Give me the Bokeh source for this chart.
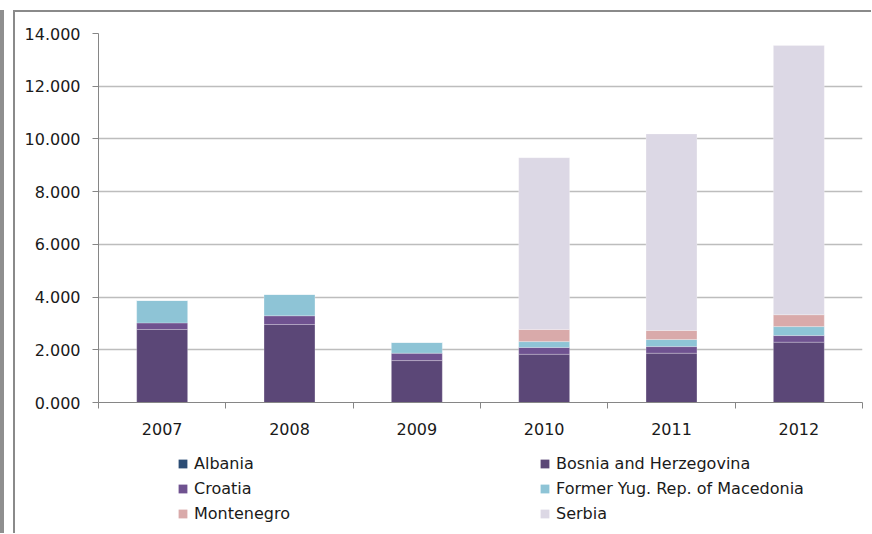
from bokeh.plotting import figure
from bokeh.layouts import column
from bokeh.models import (Range1d, FixedTicker, NumeralTickFormatter, Legend, LegendItem)
from bokeh.embed import file_html
from bokeh.resources import INLINE

# ---- data ----
years = ["2007", "2008", "2009", "2010", "2011", "2012"]
albania = [0.0, 0.0, 0.0, 0.0, 0.0, 0.0]
bosnia = [2.77, 2.96, 1.59, 1.83, 1.87, 2.29]
croatia = [0.25, 0.33, 0.28, 0.26, 0.25, 0.25]
macedonia = [0.85, 0.81, 0.41, 0.22, 0.27, 0.34]
montenegro = [0.0, 0.0, 0.0, 0.46, 0.34, 0.45]
serbia = [0.0, 0.0, 0.0, 6.52, 7.46, 10.21]
series_names = ["Albania", "Bosnia and Herzegovina", "Croatia",
                "Former Yug. Rep. of Macedonia", "Montenegro", "Serbia"]
series_values = [albania, bosnia, croatia, macedonia, montenegro, serbia]
colors = ["#2C4D75", "#5B4777", "#6F5290", "#8EC4D6", "#D9AAAA", "#DCD8E5"]
y_ticks = [0, 2, 4, 6, 8, 10, 12, 14]

FONT = "DejaVu Sans"
FSIZE = "16px"
W = 856

x_pos = [i + 0.5 for i in range(len(years))]
data = {"x": x_pos}
keys = []
for i, vals in enumerate(series_values):
    k = "s%d" % i
    keys.append(k)
    data[k] = vals

# ---------------- main chart ----------------
p = figure(width=W, height=435, output_backend="svg", toolbar_location=None,
           x_range=Range1d(0, len(years)), y_range=Range1d(0, 14),
           min_border_left=83, min_border_right=9, min_border_top=21,
           min_border_bottom=45)
p.outline_line_color = None
p.background_fill_color = "white"
p.border_fill_color = "white"

renderers = p.vbar_stack(keys, x="x", width=0.4, source=data,
                         color=colors, line_color="white", line_alpha=0.3,
                         line_width=0.8)
renderers[0].glyph.line_alpha = 0

xa = p.xaxis[0]
xa.ticker = FixedTicker(ticks=x_pos, minor_ticks=list(range(len(years) + 1)))
xa.major_label_overrides = {x_pos[i]: years[i] for i in range(len(years))}
xa.major_tick_out = 0
xa.major_tick_in = 0
xa.minor_tick_out = 6
xa.minor_tick_in = 0
xa.minor_tick_line_color = "#868686"
xa.axis_line_color = "#868686"
xa.major_label_standoff = 14
xa.major_label_text_font = FONT
xa.major_label_text_font_size = FSIZE
xa.major_label_text_color = "#1a1a1a"

ya = p.yaxis[0]
ya.ticker = FixedTicker(ticks=y_ticks)
ya.formatter = NumeralTickFormatter(format="0.000")
ya.major_tick_out = 6
ya.major_tick_in = 0
ya.minor_tick_line_color = None
ya.major_tick_line_color = "#868686"
ya.axis_line_color = "#868686"
ya.major_label_standoff = 12
ya.major_label_text_font = FONT
ya.major_label_text_font_size = FSIZE
ya.major_label_text_color = "#1a1a1a"

p.xgrid.grid_line_color = None
p.ygrid.grid_line_color = "#bdbdbd"
p.ygrid.grid_line_width = 1.5

# ---------------- legend strip ----------------
# same stacked series, hidden, so that only their legend swatches show
p2 = figure(width=W, height=86, output_backend="svg", toolbar_location=None,
            x_range=Range1d(0, len(years)), y_range=Range1d(0, 14),
            x_axis_type=None, y_axis_type=None,
            min_border_left=0, min_border_right=0, min_border_top=0,
            min_border_bottom=0)
p2.outline_line_color = None
p2.grid.grid_line_color = None
p2.background_fill_color = "white"
p2.border_fill_color = "white"

legend_renderers = p2.vbar_stack(keys, x="x", width=0.4, source=data,
                                 color=colors, line_color=None)
for r in legend_renderers:
    r.visible = False
items = [LegendItem(label=name, renderers=[r])
         for name, r in zip(series_names, legend_renderers)]

legend = Legend(items=items, location=(79, 10), orientation="horizontal", ncols=2,
                glyph_width=11, glyph_height=11, label_standoff=6, label_width=339,
                spacing=6, padding=0, margin=0,
                label_text_font=FONT, label_text_font_size=FSIZE,
                label_text_color="#1a1a1a", border_line_color=None,
                background_fill_alpha=0, inactive_fill_alpha=0)
p2.add_layout(legend, "center")

layout = column(p, p2, spacing=0)
layout.styles = {
    "margin-left": "13px",
    "margin-top": "10px",
    "border-top": "2px solid #8a8a8a",
    "border-left": "2px solid #8a8a8a",
    "box-shadow": "-9px 0 0 0 white, -13px 0 0 0 #8f8f8f",
}

open("out.html", "w").write(file_html(layout, INLINE))
